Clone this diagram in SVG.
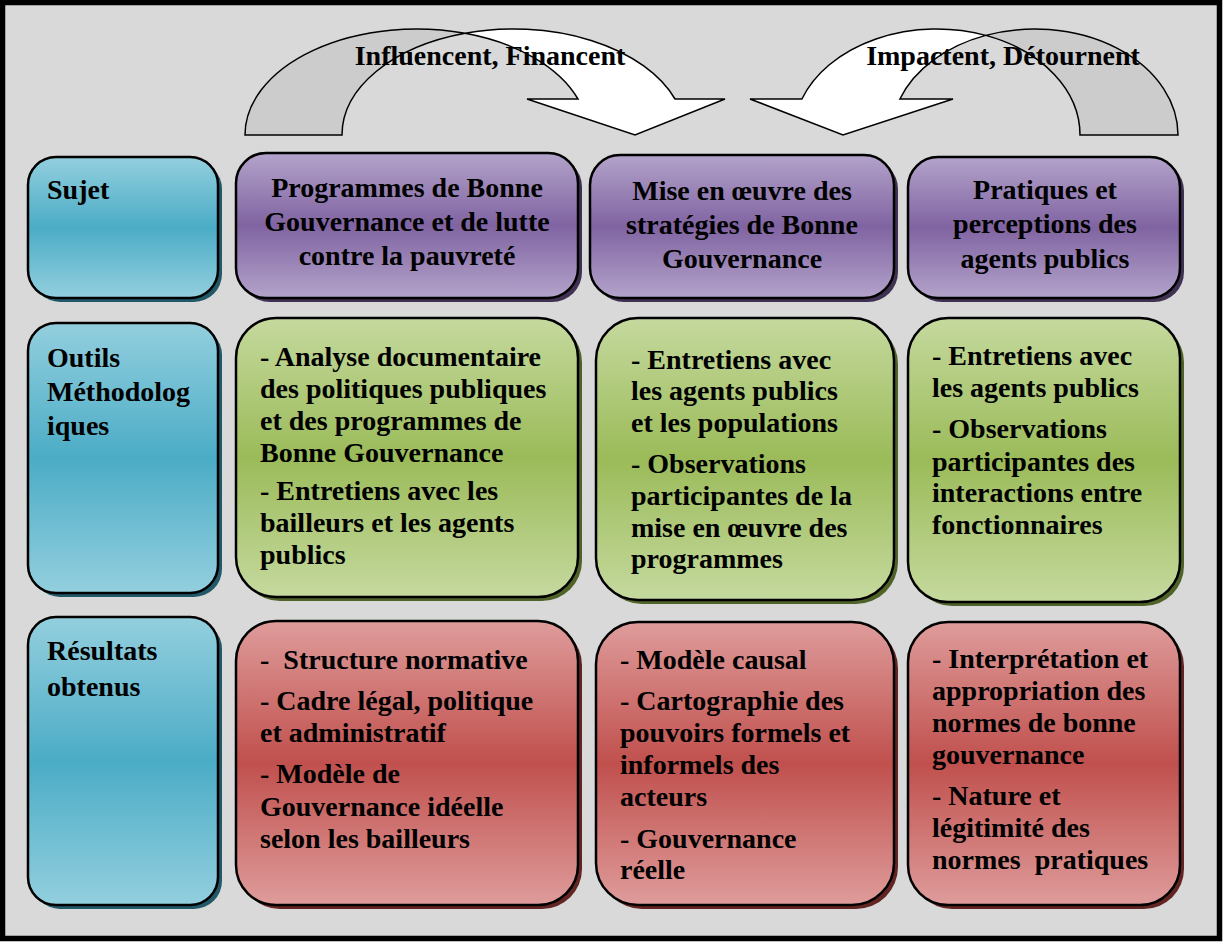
<svg xmlns="http://www.w3.org/2000/svg" width="1224" height="943" viewBox="0 0 1224 943">
<style>
text{font-family:"Liberation Serif","Times New Roman",serif;font-weight:bold;font-size:28px;fill:#000}
.c{text-anchor:middle}
.box{stroke:#000;stroke-width:2.5}
.arr{stroke:#000;stroke-width:1.5;stroke-linejoin:miter}
</style>
<defs>
<linearGradient id="gC" x1="0" y1="0" x2="0" y2="1">
<stop offset="0" stop-color="#93CFDE"/><stop offset="0.5" stop-color="#4BACC6"/><stop offset="1" stop-color="#93CFDE"/>
</linearGradient>
<linearGradient id="gP" x1="0" y1="0" x2="0" y2="1">
<stop offset="0" stop-color="#B3A3CA"/><stop offset="0.5" stop-color="#8064A2"/><stop offset="1" stop-color="#B3A3CA"/>
</linearGradient>
<linearGradient id="gG" x1="0" y1="0" x2="0" y2="1">
<stop offset="0" stop-color="#C5D99E"/><stop offset="0.5" stop-color="#9BBB59"/><stop offset="1" stop-color="#C5D99E"/>
</linearGradient>
<linearGradient id="gR" x1="0" y1="0" x2="0" y2="1">
<stop offset="0" stop-color="#DE9C9B"/><stop offset="0.5" stop-color="#C0504D"/><stop offset="1" stop-color="#DE9C9B"/>
</linearGradient>
</defs>

<rect x="2.5" y="2.5" width="1217" height="936" fill="#D9D9D9" stroke="#000" stroke-width="5.5"/>

<g id="connectors">
<g id="arrow-left">
<path class="arr" fill="#CCCCCC" d="M245,135 A171.6,106 0 0 1 465.1,33.3 A171.6,106 0 0 0 342,135 Z"/>
<path class="arr" fill="#FFFFFF" d="M465.1,33.3 A171.6,106 0 0 1 675,99 L725,99 L635,135 L527,99 L578,99 A171.6,106 0 0 0 465.1,33.3 Z"/>
<text class="c" x="490" y="65">Influencent, Financent</text>
</g>
<g id="arrow-right">
<path class="arr" fill="#CCCCCC" d="M1178,135 A143.3,106 0 0 0 985.7,35.4 A143.3,106 0 0 1 1080,135 Z"/>
<path class="arr" fill="#FFFFFF" d="M985.7,35.4 A143.3,106 0 0 0 801.9,99 L750,99 L843,135 L953,99 L899.9,99 A143.3,106 0 0 1 985.7,35.4 Z"/>
<text class="c" x="1003" y="65">Impactent, Détournent</text>
</g>
</g>

<g id="row-sujet">
<rect x="32" y="161" width="190" height="141" rx="28" fill="#215968"/>
<rect class="box" x="28" y="157" width="190" height="141" rx="28" fill="url(#gC)"/>
<text x="47" y="199">Sujet</text>
</g>
<g id="row-outils">
<rect x="32" y="327" width="190" height="270" rx="28" fill="#215968"/>
<rect class="box" x="28" y="323" width="190" height="270" rx="28" fill="url(#gC)"/>
<text x="47"><tspan x="47" y="367">Outils</tspan><tspan x="47" y="401">Méthodolog</tspan><tspan x="47" y="435">iques</tspan></text>
</g>
<g id="row-resultats">
<rect x="32" y="621" width="190" height="288" rx="28" fill="#215968"/>
<rect class="box" x="28" y="617" width="190" height="288" rx="28" fill="url(#gC)"/>
<text x="47"><tspan x="47" y="660">Résultats</tspan><tspan x="47" y="696">obtenus</tspan></text>
</g>

<g id="sujet-1">
<rect x="240" y="157" width="342" height="145" rx="30" fill="#3F3151"/>
<rect class="box" x="236" y="153" width="342" height="145" rx="30" fill="url(#gP)"/>
<text class="c"><tspan x="407" y="197">Programmes de Bonne</tspan><tspan x="407" y="231">Gouvernance et de lutte</tspan><tspan x="407" y="265">contre la pauvreté</tspan></text>
</g>
<g id="sujet-2">
<rect x="594" y="159" width="304" height="143" rx="30" fill="#3F3151"/>
<rect class="box" x="590" y="155" width="304" height="143" rx="30" fill="url(#gP)"/>
<text class="c"><tspan x="742" y="200">Mise en œuvre des</tspan><tspan x="742" y="234">stratégies de Bonne</tspan><tspan x="742" y="268">Gouvernance</tspan></text>
</g>
<g id="sujet-3">
<rect x="912" y="161" width="272" height="141" rx="30" fill="#3F3151"/>
<rect class="box" x="908" y="157" width="272" height="141" rx="30" fill="url(#gP)"/>
<text class="c"><tspan x="1045" y="199">Pratiques et</tspan><tspan x="1045" y="233">perceptions des</tspan><tspan x="1045" y="268">agents publics</tspan></text>
</g>

<g id="outils-1">
<rect x="240" y="322" width="342" height="279" rx="40" fill="#4F6228"/>
<rect class="box" x="236" y="318" width="342" height="279" rx="40" fill="url(#gG)"/>
<text><tspan x="260" y="366">- Analyse documentaire</tspan><tspan x="260" y="398">des politiques publiques</tspan><tspan x="260" y="430">et des programmes de</tspan><tspan x="260" y="462">Bonne Gouvernance</tspan><tspan x="260" y="500">- Entretiens avec les</tspan><tspan x="260" y="532">bailleurs et les agents</tspan><tspan x="260" y="564">publics</tspan></text>
</g>
<g id="outils-2">
<rect x="600" y="322" width="298" height="282" rx="42" fill="#4F6228"/>
<rect class="box" x="596" y="318" width="298" height="282" rx="42" fill="url(#gG)"/>
<text><tspan x="631" y="369">- Entretiens avec</tspan><tspan x="631" y="400">les agents publics</tspan><tspan x="631" y="432">et les populations</tspan><tspan x="631" y="473">- Observations</tspan><tspan x="631" y="505">participantes de la</tspan><tspan x="631" y="537">mise en œuvre des</tspan><tspan x="631" y="568">programmes</tspan></text>
</g>
<g id="outils-3">
<rect x="912" y="322" width="272" height="284" rx="40" fill="#4F6228"/>
<rect class="box" x="908" y="318" width="272" height="284" rx="40" fill="url(#gG)"/>
<text><tspan x="932" y="365">- Entretiens avec</tspan><tspan x="932" y="397">les agents publics</tspan><tspan x="932" y="438">- Observations</tspan><tspan x="932" y="471">participantes des</tspan><tspan x="932" y="502">interactions entre</tspan><tspan x="932" y="534">fonctionnaires</tspan></text>
</g>

<g id="resultats-1">
<rect x="240" y="625" width="342" height="284" rx="40" fill="#632523"/>
<rect class="box" x="236" y="621" width="342" height="284" rx="40" fill="url(#gR)"/>
<text xml:space="preserve"><tspan x="260" y="669">-  Structure normative</tspan><tspan x="260" y="710">- Cadre légal, politique</tspan><tspan x="260" y="742">et administratif</tspan><tspan x="260" y="783">- Modèle de</tspan><tspan x="260" y="816">Gouvernance idéelle</tspan><tspan x="260" y="848">selon les bailleurs</tspan></text>
</g>
<g id="resultats-2">
<rect x="600" y="626" width="298" height="283" rx="42" fill="#632523"/>
<rect class="box" x="596" y="622" width="298" height="283" rx="42" fill="url(#gR)"/>
<text><tspan x="620" y="669">- Modèle causal</tspan><tspan x="620" y="710">- Cartographie des</tspan><tspan x="620" y="742">pouvoirs formels et</tspan><tspan x="620" y="774">informels des</tspan><tspan x="620" y="806">acteurs</tspan><tspan x="620" y="848">- Gouvernance</tspan><tspan x="620" y="879">réelle</tspan></text>
</g>
<g id="resultats-3">
<rect x="912" y="626" width="272" height="283" rx="40" fill="#632523"/>
<rect class="box" x="908" y="622" width="272" height="283" rx="40" fill="url(#gR)"/>
<text xml:space="preserve"><tspan x="932" y="668">- Interprétation et</tspan><tspan x="932" y="700">appropriation des</tspan><tspan x="932" y="732">normes de bonne</tspan><tspan x="932" y="764">gouvernance</tspan><tspan x="932" y="805">- Nature et</tspan><tspan x="932" y="837">légitimité des</tspan><tspan x="932" y="869">normes  pratiques</tspan></text>
</g>
</svg>
